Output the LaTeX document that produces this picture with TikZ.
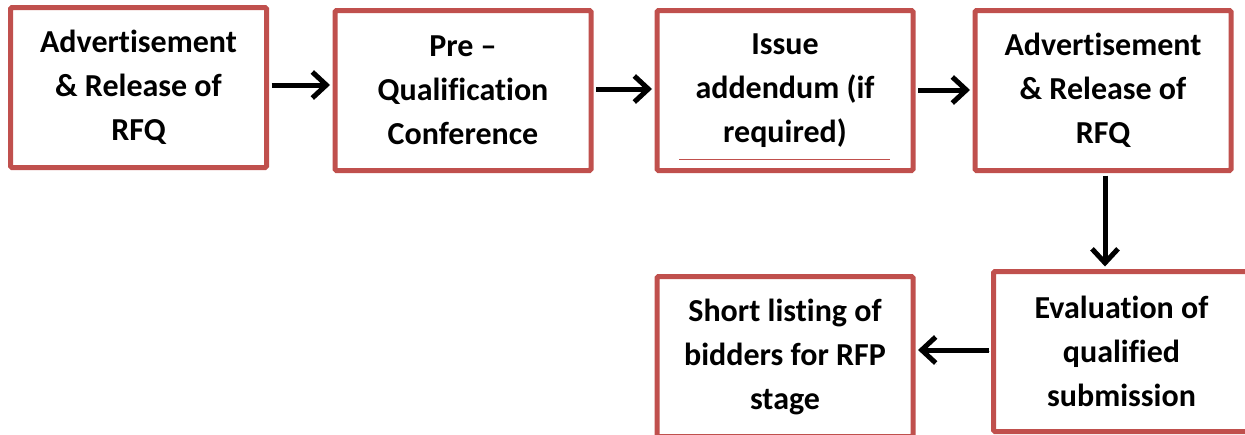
\documentclass[tikz,border=0pt]{standalone}
\usepackage{fontspec}
\setmainfont{Carlito}[Ligatures=NoCommon]
\usetikzlibrary{arrows.meta,shadows}
\definecolor{boxred}{HTML}{C0504D}
\tikzset{
  stagebox/.style={draw=boxred, line width=5pt, fill=white, rounded corners=1.5pt,
    minimum width=256pt, minimum height=160pt, inner sep=0pt, align=center,
    font=\fontsize{32}{44}\selectfont\bfseries,
    drop shadow={opacity=0.18, shadow xshift=1.5pt, shadow yshift=-1.5pt}},
  flow/.style={line width=5pt, black, shorten <=2.5pt, shorten >=2.5pt,
    -{Straight Barb[length=14pt, width=26pt, line width=5pt]},
    preaction={draw=black!25, transform canvas={shift={(1pt,-1.5pt)}}}},
  rule/.style={draw=boxred, line width=1pt}
}
\begin{document}
\begin{tikzpicture}[x=1pt,y=-1pt]
\useasboundingbox (0,0) rectangle (1245,434);

% first row
\node[stagebox] (adv1)  at (138.5,87.5) {Advertisement\\ \& Release of\\ RFQ};
\node[stagebox] (preq)  at (463,90.5)   {Pre --\\ Qualification\\ Conference};
\node[stagebox] (issue) at (785,90.5)   {Issue\\ addendum (if\\ required)};
\node[stagebox] (adv2)  at (1103,90.5)  {Advertisement\\ \& Release of\\ RFQ};

% second row
\node[stagebox] (eval)  at (1121.5,351.5) {Evaluation of\\ qualified\\ submission};
\node[stagebox] (short) at (785,356.5)    {Short listing of\\ bidders for RFP\\ stage};

% short rule under the addendum text
\draw[rule] ([xshift=-106pt,yshift=13.5pt]issue.south) -- ([xshift=105pt,yshift=13.5pt]issue.south);

% connectors
\draw[flow] ([yshift=2.5pt]adv1.east) -- ([yshift=2.5pt]adv1.east -| preq.west);
\draw[flow] ([yshift=1.5pt]preq.east) -- ([yshift=1.5pt]preq.east -| issue.west);
\draw[flow] ([yshift=0.5pt]issue.east) -- ([yshift=0.5pt]issue.east -| adv2.west);
\draw[flow] ([xshift=2pt]adv2.south) -- ([xshift=2pt]adv2.south |- eval.north);
\draw[flow] ([yshift=1.5pt]eval.west) -- ([yshift=1.5pt]eval.west -| short.east);
\end{tikzpicture}
\end{document}
